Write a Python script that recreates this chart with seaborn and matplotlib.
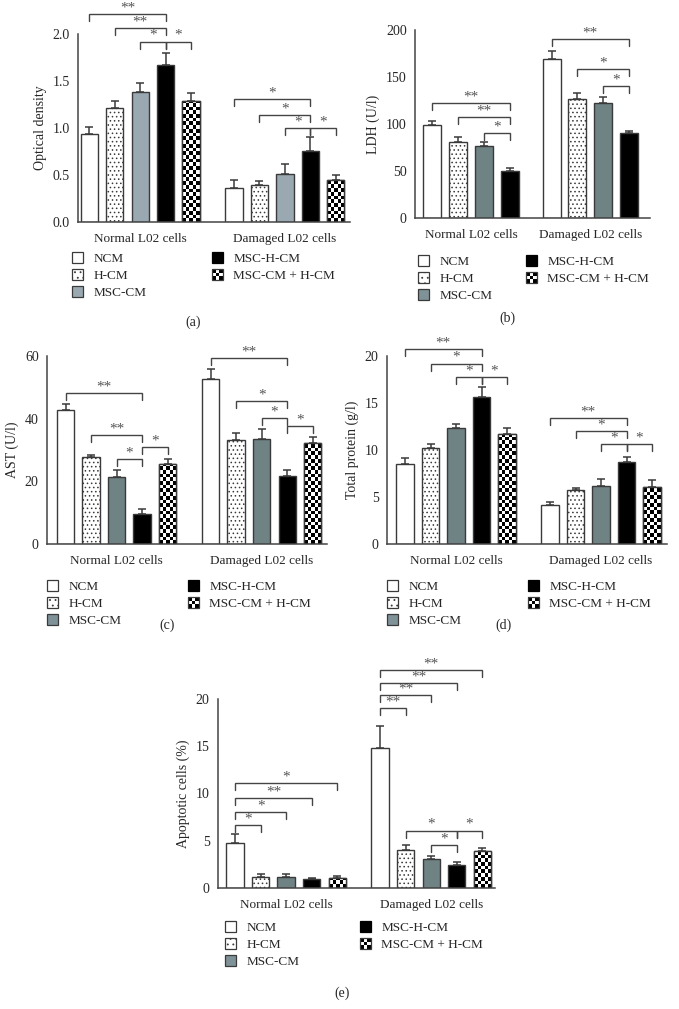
import numpy as np
import pandas as pd
import seaborn as sns
import matplotlib.pyplot as plt
from matplotlib.patches import Patch, Rectangle
from matplotlib.legend_handler import HandlerBase

# %% data
groups = ['Normal L02 cells', 'Damaged L02 cells']
treatments = ['NCM', 'H-CM', 'MSC-CM', 'MSC-H-CM', 'MSC-CM + H-CM']

# (a) optical density
od_normal = [0.94, 1.21, 1.38, 1.67, 1.29]
od_normal_err = [0.07, 0.08, 0.10, 0.13, 0.08]
od_damaged = [0.36, 0.39, 0.51, 0.75, 0.45]
od_damaged_err = [0.09, 0.05, 0.11, 0.15, 0.05]
od_sig = [(0, 0, 3, 2.21, '**'), (0, 1, 3, 2.06, '**'), (0, 2, 3, 1.92, '*'), (0, 3, 4, 1.92, '*'),
          (1, 0, 3, 1.31, '*'), (1, 1, 3, 1.14, '*'), (1, 2, 3, 1.00, '*'), (1, 3, 4, 1.00, '*')]

# (b) LDH, no MSC-CM + H-CM bars
ldh_normal = [99, 81, 77, 50]
ldh_normal_err = [4.5, 5, 4, 3]
ldh_damaged = [169, 127, 122, 90]
ldh_damaged_err = [9, 6, 7, 2.5]
ldh_sig = [(0, 0, 3, 122.8, '**'), (0, 1, 3, 107, '**'), (0, 2, 3, 90.3, '*'),
           (1, 0, 3, 190.8, '**'), (1, 1, 3, 158, '*'), (1, 2, 3, 140.5, '*')]

# (c) AST
ast_normal = [42.7, 27.7, 21.4, 9.6, 25.5]
ast_normal_err = [2.1, 0.8, 2.2, 1.5, 1.7]
ast_damaged = [52.6, 33.2, 33.5, 21.7, 32.2]
ast_damaged_err = [3.4, 2.2, 3.1, 1.8, 1.9]
ast_sig = [(0, 0, 3, 48.3, '**'), (0, 1, 3, 34.7, '**'), (0, 2, 3, 27.0, '*'), (0, 3, 4, 30.9, '*'),
           (1, 0, 3, 59.3, '**'), (1, 1, 3, 45.6, '*'), (1, 2, 3, 40.3, '*'), (1, 3, 4, 37.6, '*')]

# (d) total protein
tp_normal = [8.5, 10.2, 12.3, 15.6, 11.7]
tp_normal_err = [0.6, 0.4, 0.5, 1.1, 0.6]
tp_damaged = [4.1, 5.7, 6.2, 8.7, 6.1]
tp_damaged_err = [0.4, 0.3, 0.7, 0.6, 0.7]
tp_sig = [(0, 0, 3, 20.7, '**'), (0, 1, 3, 19.2, '*'), (0, 2, 3, 17.8, '*'), (0, 3, 4, 17.8, '*'),
          (1, 0, 3, 13.4, '**'), (1, 1, 3, 12.0, '*'), (1, 2, 3, 10.6, '*'), (1, 3, 4, 10.6, '*')]

# (e) apoptotic cells
apo_normal = [4.8, 1.17, 1.13, 0.92, 1.06]
apo_normal_err = [0.9, 0.31, 0.35, 0.18, 0.21]
apo_damaged = [14.8, 4.06, 3.04, 2.4, 3.9]
apo_damaged_err = [2.3, 0.44, 0.36, 0.3, 0.3]
apo_sig = [(0, 0, 1, 6.68, '*'), (0, 0, 2, 8.06, '*'), (0, 0, 3, 9.54, '**'), (0, 0, 4, 11.1, '*'),
           (1, 0, 1, 19.05, '**'), (1, 0, 2, 20.4, '**'), (1, 0, 3, 21.7, '**'), (1, 0, 4, 23.1, '**'),
           (1, 1, 3, 6.08, '*'), (1, 2, 3, 4.56, '*'), (1, 3, 4, 6.08, '*')]

# %% style
W, H = 679, 1009
sns.set_style('white')
plt.rcParams['font.family'] = ['Liberation Serif', 'DejaVu Serif']
plt.rcParams['hatch.linewidth'] = 0.6
EDGE = '#3a3a3a'
FS = 9.5
LIGHT_GRAY = '#9aa9b1'
DARK_GRAY = '#6f8385'

fig = plt.figure(figsize=(W / 100, H / 100), dpi=100)


class CheckerHandler(HandlerBase):
    def create_artists(self, legend, orig_handle, xdescent, ydescent, width, height, fontsize, trans):
        arts = []
        n = 3
        w, h = width / n, height / n
        for r in range(n):
            for c in range(n):
                fc = 'black' if (r + c) % 2 == 0 else 'white'
                arts.append(Rectangle((-xdescent + c * w, -ydescent + r * h), w, h,
                                      facecolor=fc, edgecolor='none', transform=trans))
        arts.append(Rectangle((-xdescent, -ydescent), width, height, fill=False,
                              edgecolor=EDGE, lw=0.9, transform=trans))
        return arts


def panel(box, xlim, ylim, yticks, ylabel, normal, normal_err, damaged, damaged_err, sig,
          msc_color, width, gap, tickfmt='{:g}'):
    l, t, r, b = box
    ax = fig.add_axes([l / W, 1 - b / H, (r - l) / W, (b - t) / H])
    n = len(normal)
    levels = treatments[:n]
    df = pd.DataFrame({
        'group': [groups[0]] * n + [groups[1]] * n,
        'treatment': levels * 2,
        'value': normal + damaged,
    })
    colors = ['white', 'white', msc_color, 'black', 'white'][:n]
    sns.barplot(data=df, x='group', y='value', hue='treatment', order=groups, hue_order=levels,
                palette=colors, width=width, gap=gap, errorbar=None, legend=False,
                edgecolor=EDGE, linewidth=1.0, saturation=1, ax=ax)
    ax.set_xlim(*xlim)
    ax.set_ylim(*ylim)

    # px -> data scale
    px_x = (xlim[1] - xlim[0]) / (r - l)
    px_y = (ylim[1] - ylim[0]) / (b - t)

    centers = {}
    errs = [normal_err, damaged_err]
    bar_sets = list(ax.containers)
    for k, cont in enumerate(bar_sets):
        for g, bar in enumerate(cont.patches):
            x = bar.get_x() + bar.get_width() / 2
            top = bar.get_height()
            centers[(g, k)] = (x, top)
            if k == 3:
                bar.set_facecolor('black')
            if k == 1:
                bar.set_hatch('....')
            if k == 4:
                # checkerboard fill clipped to the bar
                sq = 3.7
                ncol = max(1, int(round(bar.get_width() / px_x / sq)))
                nrow = int(np.ceil(top / px_y / sq))
                board = np.indices((nrow, ncol)).sum(axis=0) % 2
                x0 = bar.get_x()
                im = ax.imshow(board, cmap='gray', interpolation='nearest', aspect='auto',
                               extent=(x0, x0 + bar.get_width(), 0, nrow * sq * px_y),
                               origin='lower', zorder=bar.get_zorder() + 0.01)
                im.set_clip_path(bar)
                ax.add_patch(Rectangle((x0, 0), bar.get_width(), top, fill=False,
                                       edgecolor=EDGE, lw=1.0, zorder=bar.get_zorder() + 0.02))
            ax.errorbar(x, top, yerr=[[0], [errs[g][k]]], fmt='none', ecolor=EDGE,
                        elinewidth=1.1, capsize=2.6, capthick=1.1, zorder=3)
    ax.set_xlim(*xlim)
    ax.set_ylim(*ylim)

    # significance brackets
    leg = 7 * px_y
    for g, i, j, y, lab in sig:
        x1 = centers[(g, i)][0]
        x2 = centers[(g, j)][0]
        ax.plot([x1, x1, x2, x2], [y - leg, y, y, y - leg], color='#444444', lw=1.0,
                clip_on=False, solid_joinstyle='miter')
        ax.text((x1 + x2) / 2, y - 0.5 * px_y, lab, ha='center', va='bottom',
                fontsize=11, color='#555555', clip_on=False)

    sns.despine(ax=ax)
    for s in ['left', 'bottom']:
        ax.spines[s].set_color('#444444')
        ax.spines[s].set_linewidth(1.1)
    ax.set_yticks(yticks)
    ax.set_yticklabels([tickfmt.format(v) for v in yticks])
    ax.tick_params(axis='both', direction='out', length=4, width=1.1, color='#444444',
                   labelsize=10, pad=2)
    ax.tick_params(axis='x', pad=4, labelsize=FS)
    ax.set_xlabel('')
    ax.set_ylabel(ylabel, fontsize=10, labelpad=4)
    return ax


def legend(col1_x, col2_x, top, msc_color):
    h = [Patch(facecolor='white', edgecolor=EDGE, lw=0.9),
         Patch(facecolor='white', edgecolor=EDGE, lw=0.9, hatch='...'),
         Patch(facecolor=msc_color, edgecolor=EDGE, lw=0.9)]
    checker = Patch(label='MSC-CM + H-CM')
    h2 = [Patch(facecolor='black', edgecolor='black', lw=0.9), checker]
    kw = dict(loc='upper left', frameon=False, borderpad=0, borderaxespad=0, fontsize=FS,
              handlelength=0.85, handleheight=0.85, handletextpad=0.75, labelspacing=0.33,
              bbox_transform=fig.transFigure)
    fig.legend(h, treatments[:3], bbox_to_anchor=(col1_x / W, 1 - top / H), **kw)
    fig.legend(h2, treatments[3:], bbox_to_anchor=(col2_x / W, 1 - top / H),
               handler_map={checker: CheckerHandler()}, **kw)


# %% panels
panel((78, 34, 350, 222), (-0.43, 1.45), (0, 2.0), [0, 0.5, 1.0, 1.5, 2.0], 'Optical density',
      od_normal, od_normal_err, od_damaged, od_damaged_err, od_sig, LIGHT_GRAY, 0.88, 0.32,
      tickfmt='{:.1f}')
legend(72, 212, 252, LIGHT_GRAY)
fig.text(193 / W, 1 - 322 / H, '(a)', ha='center', va='center', fontsize=10)

panel((415, 30, 650, 218), (-0.47, 1.50), (0, 200), [0, 50, 100, 150, 200], 'LDH (U/l)',
      ldh_normal, ldh_normal_err, ldh_damaged, ldh_damaged_err, ldh_sig, DARK_GRAY, 0.864, 0.30)
legend(418, 526, 255, '#7f9298')
fig.text(507 / W, 1 - 318 / H, '(b)', ha='center', va='center', fontsize=10)

panel((47, 356, 327, 544), (-0.48, 1.45), (0, 60), [0, 20, 40, 60], 'AST (U/l)',
      ast_normal, ast_normal_err, ast_damaged, ast_damaged_err, ast_sig, DARK_GRAY, 0.88, 0.32)
legend(47, 188, 580, '#7f9298')
fig.text(167 / W, 1 - 625 / H, '(c)', ha='center', va='center', fontsize=10)

panel((387, 356, 667, 544), (-0.476, 1.455), (0, 20), [0, 5, 10, 15, 20], 'Total protein (g/l)',
      tp_normal, tp_normal_err, tp_damaged, tp_damaged_err, tp_sig, DARK_GRAY, 0.88, 0.32)
legend(387, 528, 580, '#7f9298')
fig.text(503 / W, 1 - 625 / H, '(d)', ha='center', va='center', fontsize=10)

panel((218, 699, 495, 888), (-0.47, 1.44), (0, 20), [0, 5, 10, 15, 20], 'Apoptotic cells (%)',
      apo_normal, apo_normal_err, apo_damaged, apo_damaged_err, apo_sig, DARK_GRAY, 0.88, 0.32)
legend(225, 360, 921, '#7f9298')
fig.text(342 / W, 1 - 993 / H, '(e)', ha='center', va='center', fontsize=10)

fig.savefig('out.png', dpi=100)
